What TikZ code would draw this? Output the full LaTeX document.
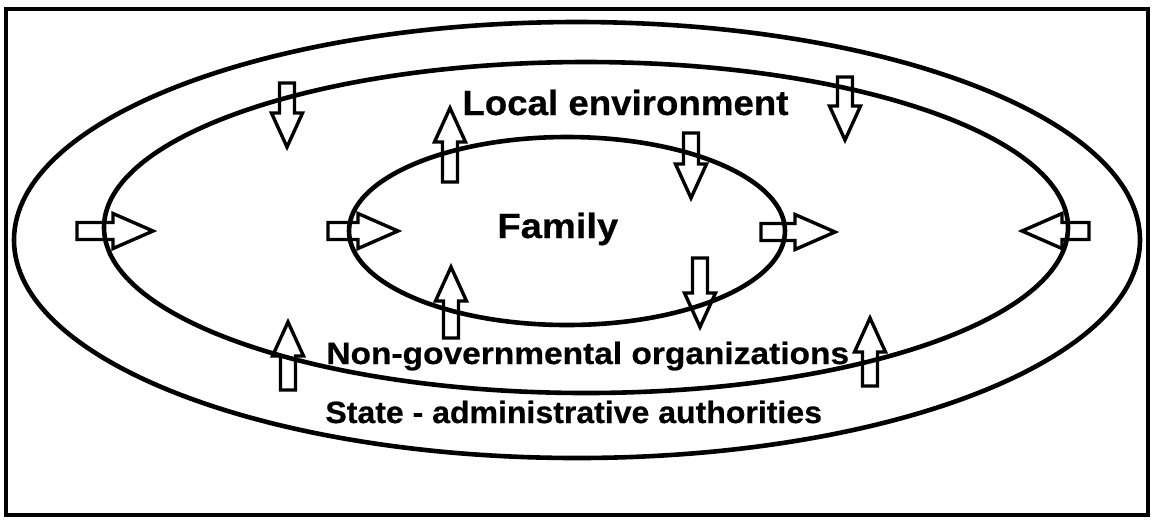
\documentclass[tikz,border=0pt]{standalone}
\usepackage{fontspec}
\setmainfont[BoldFeatures={FakeBold=0.6}]{Liberation Sans}
\begin{document}
\begin{tikzpicture}[x=0.5pt,y=-0.5pt,
  ring/.style={line width=2.3pt},
  frameline/.style={line width=1.6pt},
  arrowline/.style={line width=1.7pt, line join=miter},
  vbar/.pic={\draw[arrowline] (0,-7.5) -- ({#1-34},-7.5) -- ({#1-34},-15.5) -- (#1,0) -- ({#1-34},15.5) -- ({#1-34},7.5) -- (0,7.5) -- cycle;},
  hbar/.pic={\draw[arrowline] (0,-8.5) -- ({#1-40},-8.5) -- ({#1-40},-17.5) -- (#1,0) -- ({#1-40},17.5) -- ({#1-40},8.5) -- (0,8.5) -- cycle;},
  lbl/.style={font=\bfseries, anchor=base west, inner sep=0pt}]
\useasboundingbox (0,0) rectangle (1154,521);
% frame
\draw[frameline] (6,9) rectangle (1148,515);
% rings
\draw[ring] (577,240) ellipse [x radius=281.5pt, y radius=109pt];
\draw[ring] (586,227.5) ellipse [x radius=241pt, y radius=82.75pt];
\draw[ring] (567,231) ellipse [x radius=109pt, y radius=47pt];
% labels
\node[lbl] (local) at (462,115) {\fontsize{17.5pt}{20pt}\selectfont\scalebox{1.048}[1]{Local environment}};
\node[lbl] (family) at (497,238) {\fontsize{17.5pt}{20pt}\selectfont\scalebox{1.09}[1]{Family}};
\node[lbl] (ngo) at (326,364) {\fontsize{15.4pt}{18pt}\selectfont\scalebox{1.087}[1]{Non-governmental organizations}};
\node[lbl] (state) at (325,423) {\fontsize{15.4pt}{18pt}\selectfont\scalebox{1.04}[1]{State - administrative authorities}};
% arrows
\pic[rotate=-90] at (287,83) {vbar=64};
\pic[rotate=90] at (450,182) {vbar=74};
\pic at (77,231) {hbar=76};
\pic at (328,231) {hbar=70};
\pic[rotate=-90] at (691,133) {vbar=65};
\pic[rotate=-90] at (845,77) {vbar=63};
\pic at (761,232) {hbar=74};
\pic[rotate=180] at (1089,231) {hbar=67};
\pic[rotate=90] at (451,338) {vbar=71};
\pic[rotate=-90] at (700,258) {vbar=69};
\pic[rotate=90] at (288,390) {vbar=68};
\pic[rotate=90] at (870,386) {vbar=68};
\end{tikzpicture}
\end{document}
